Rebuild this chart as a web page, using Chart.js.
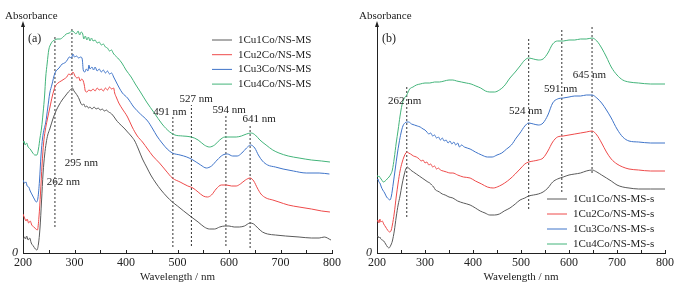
<!DOCTYPE html>
<html>
<head>
<meta charset="utf-8">
<script src="https://cdn.jsdelivr.net/npm/chart.js@4"></script>
<style>
html, body { margin: 0; padding: 0; background: #fff; }
.panel { position: absolute; top: 0; width: 344px; height: 292px; }
</style>
</head>
<body>
<div class="panel" style="left:0"><canvas id="chartA" width="344" height="292"></canvas></div>
<div class="panel" style="left:344px"><canvas id="chartB" width="344" height="292"></canvas></div>
<script>
// panel (a) spectra, [wavelength nm, absorbance a.u.]
var cu1coA = [[200,13],[203,16],[205,14],[207,17],[210,13],[213,15],[216,10],[220,7],[224,4],[227,3],[230,9],[233,25],[236,52],[239,80],[242,98],[245,110],[248,118],[252,124],[258,134],[264,142],[270,148],[276,153],[282,157],[288,161],[292,163],[296,165],[299,162],[302,160],[306,157],[309,154],[312,150],[315,148],[318,149],[321,146],[324,147],[327,145],[330,146],[334,144],[338,146],[342,144],[346,145],[350,143],[354,144],[358,142],[362,143],[366,141],[370,140],[374,138],[377,136],[381,133],[386,130],[392,127],[398,124],[403,121],[410,117],[417,112],[424,104],[432,94],[440,86],[448,78],[458,70],[468,63],[480,56],[490,51],[500,47],[512,42],[527,36],[540,31],[552,26],[562,24],[572,24],[582,26],[592,27],[600,27],[610,26],[620,26],[630,27],[641,30],[648,29],[656,25],[665,21],[675,19],[690,18],[710,17],[736,16],[760,15],[775,15],[785,16],[798,13]];
var cu2coA = [[200,39],[203,35],[206,32],[208,34],[211,30],[214,32],[217,28],[221,26],[225,24],[228,23],[231,36],[234,60],[237,88],[240,110],[243,122],[247,133],[252,145],[257,157],[262,166],[268,170],[274,172],[280,174],[285,176],[289,179],[293,178],[297,181],[301,177],[305,175],[308,176],[311,172],[314,174],[317,172],[319,168],[321,162],[324,161],[328,163],[332,162],[336,164],[340,162],[344,165],[348,163],[352,164],[356,162],[360,165],[364,163],[368,166],[372,164],[376,165],[378,160],[381,156],[386,150],[393,144],[403,136],[412,126],[422,117],[432,111],[442,104],[452,97],[465,90],[478,82],[490,75],[505,71],[520,67],[530,65],[540,61],[550,57],[558,56],[566,58],[575,64],[585,68],[595,68],[605,67],[614,67],[622,69],[632,73],[641,75],[648,72],[655,65],[662,59],[672,55],[685,53],[697,51],[715,48],[736,46],[760,44],[780,42],[796,41]];
var cu3coA = [[200,73],[203,70],[206,71],[208,67],[211,66],[214,62],[218,58],[222,54],[226,51],[229,55],[232,72],[235,98],[238,115],[241,124],[244,130],[248,145],[252,160],[256,168],[262,180],[270,185],[276,189],[281,190],[286,193],[290,196],[294,195],[297,199],[300,196],[304,197],[308,195],[312,196],[315,194],[317,183],[320,181],[323,184],[326,182],[328,188],[330,184],[334,186],[337,183],[340,186],[344,182],[348,184],[352,181],[356,183],[360,180],[364,182],[368,179],[372,180],[376,176],[380,172],[386,166],[393,160],[403,155],[415,146],[428,139],[442,132],[452,124],[460,117],[470,110],[480,104],[490,100],[505,98],[518,96],[530,93],[545,88],[556,85],[566,87],[577,93],[588,98],[597,99],[607,97],[616,97],[625,100],[634,105],[642,108],[650,105],[657,98],[665,92],[675,88],[690,86],[705,84],[725,82],[750,80],[775,80],[795,79]];
var cu4coA = [[200,110],[202,112],[204,108],[207,110],[210,106],[214,104],[219,100],[223,98],[227,98],[230,104],[233,115],[236,125],[239,140],[242,158],[244,175],[247,190],[250,203],[254,209],[258,212],[262,213],[266,214],[272,214],[278,216],[284,219],[290,220],[295,222],[299,221],[303,219],[307,222],[310,218],[313,221],[316,219],[318,214],[321,217],[324,213],[327,216],[330,212],[333,215],[336,212],[340,213],[344,210],[348,211],[352,208],[356,209],[360,206],[364,205],[368,202],[372,203],[375,200],[378,198],[384,195],[392,190],[400,183],[410,176],[418,169],[428,161],[440,151],[455,140],[470,129],[485,121],[495,118],[510,117],[527,116],[540,113],[552,108],[562,106],[572,108],[582,113],[592,116],[602,116],[614,116],[624,117],[634,119],[643,120],[651,118],[660,113],[672,108],[685,103],[697,100],[715,97],[736,95],[760,93],[780,92],[796,91]];

// panel (b) spectra
var cu1coB = [[200,16],[202,17],[204,15],[206,16],[208,14],[211,13],[214,12],[218,9],[222,6],[225,5],[228,7],[232,12],[236,22],[240,36],[244,48],[248,57],[252,68],[256,77],[260,84],[263,86],[266,85],[270,83],[276,81],[282,79],[288,77],[294,75],[300,73],[306,71],[310,70],[314,68],[318,66],[322,63],[326,62],[330,61],[336,59],[342,58],[350,56],[358,55],[368,52],[380,50],[394,48],[405,45],[415,42],[425,40],[435,38],[445,38],[455,39],[465,42],[477,45],[488,49],[498,53],[508,55],[516,57],[526,58],[536,59],[546,61],[556,65],[566,71],[576,74],[588,76],[600,78],[612,79],[624,80],[636,82],[648,83],[658,81],[668,78],[678,75],[688,72],[700,68],[712,66],[725,65],[745,64],[770,64],[800,64]];
var cu2coB = [[200,31],[202,33],[204,30],[206,34],[208,31],[211,32],[214,29],[218,26],[222,23],[226,21],[229,22],[232,28],[236,40],[240,56],[244,70],[248,82],[252,90],[256,96],[260,100],[263,101],[266,100],[270,99],[276,97],[282,96],[288,94],[292,92],[296,93],[300,90],[304,91],[308,88],[312,89],[316,86],[320,87],[324,84],[328,85],[332,83],[338,82],[345,81],[352,80],[358,80],[368,78],[380,76],[394,75],[405,72],[418,69],[430,66],[442,65],[455,67],[466,70],[477,74],[488,79],[498,84],[508,89],[516,91],[526,92],[536,93],[546,95],[556,102],[566,111],[576,116],[588,117],[600,118],[612,119],[624,120],[636,121],[648,122],[658,118],[668,110],[678,101],[688,94],[700,89],[712,86],[725,84],[745,83],[770,82],[800,82]];
var cu3coB = [[200,73],[202,74],[204,71],[206,70],[209,66],[212,63],[216,60],[220,56],[224,54],[227,53],[230,57],[234,70],[238,84],[242,98],[246,110],[250,120],[254,127],[258,130],[262,131],[266,131],[272,129],[278,128],[284,127],[290,126],[296,124],[300,123],[304,121],[308,119],[312,120],[316,117],[320,118],[324,115],[328,116],[332,113],[336,115],[340,112],[344,113],[348,110],[352,112],[356,109],[360,111],[364,108],[368,110],[372,106],[376,108],[382,106],[394,104],[405,101],[418,98],[430,96],[440,96],[450,98],[460,100],[470,104],[480,108],[490,115],[498,120],[508,127],[516,130],[526,129],[536,128],[546,130],[556,138],[566,150],[576,154],[588,155],[600,156],[612,157],[624,157],[636,158],[648,158],[658,155],[668,150],[678,143],[688,135],[700,124],[712,116],[725,112],[745,111],[770,110],[800,110]];
var cu4coB = [[200,78],[202,76],[204,77],[207,75],[210,73],[213,71],[217,72],[221,74],[225,76],[229,79],[232,83],[236,95],[240,110],[244,123],[248,137],[252,148],[256,154],[262,158],[268,164],[275,166],[282,168],[290,169],[300,170],[310,170],[320,171],[330,171],[340,172],[350,173],[358,173],[366,172],[376,171],[386,170],[396,169],[406,167],[416,165],[426,162],[435,161],[445,161],[455,163],[465,167],[477,175],[488,181],[498,187],[508,193],[516,195],[526,194],[536,193],[546,194],[556,200],[566,209],[576,212],[588,212],[600,213],[612,213],[624,214],[636,214],[648,215],[658,212],[668,205],[678,196],[688,186],[700,178],[712,173],[725,171],[745,170],[770,169],[800,169]];

var namesA = ['1Cu1Co/NS-MS', '1Cu2Co/NS-MS', '1Cu3Co/NS-MS', '1Cu4Co/NS-MS'];
var namesB = ['1Cu1Co/NS-MS-s', '1Cu2Co/NS-MS-s', '1Cu3Co/NS-MS-s', '1Cu4Co/NS-MS-s'];

// marked peaks: wavelength, dashed span [low, high], label text and label anchor [nm, abs]
var peaksA = [262, 295, 491, 527, 594, 641];
var spansA = [[26,217], [98,226], [6,136], [7,148], [7,138], [5,128]];
var peakTextA = ['262 nm', '295 nm', '491 nm', '527 nm', '594 nm', '641 nm'];
var peakTextAtA = [[246,71], [281,90], [453,141], [504,154], [568,143], [626,134]];

var peaksB = [262, 516, 585, 648];
var spansB = [[36,166], [44,214], [61,224], [80,226]];
var peakTextB = ['262 nm', '524 nm', '591 nm', '645 nm'];
var peakTextAtB = [[223,152], [475,142], [548,164], [608,178]];

var colors = ['#5a5a5a', '#ee4a4a', '#3f74c9', '#43b47a'];
var serif = '"Liberation Serif", "Times New Roman", serif';

function toXY(pairs) {
    return pairs.map(function (p) { return {x: p[0], y: p[1]}; });
}

var overlay = {
    id: 'overlay',
    afterDatasetsDraw: function (chart, args, o) {
        var ctx = chart.ctx, xs = chart.scales.x, ys = chart.scales.y, area = chart.chartArea;
        ctx.save();
        ctx.fillStyle = '#222';
        ctx.strokeStyle = '#222';
        ctx.textBaseline = 'middle';
        ctx.font = '11px ' + serif;
        o.texts.forEach(function (t, i) {
            ctx.fillText(t, xs.getPixelForValue(o.textAt[i][0]), ys.getPixelForValue(o.textAt[i][1]));
        });
        // legend
        o.names.forEach(function (n, i) {
            var yy = o.legend.y + i * o.legend.step;
            ctx.strokeStyle = chart.data.datasets[i].borderColor;
            ctx.lineWidth = 1;
            ctx.beginPath();
            ctx.moveTo(o.legend.x, yy);
            ctx.lineTo(o.legend.x + 20, yy);
            ctx.stroke();
            ctx.fillText(n, o.legend.x + 26, yy);
        });
        // inward tick marks
        ctx.strokeStyle = '#222';
        ctx.lineWidth = 1;
        xs.ticks.forEach(function (t) {
            var px = Math.round(xs.getPixelForValue(t.value)) + 0.5;
            ctx.beginPath();
            ctx.moveTo(px, area.bottom);
            ctx.lineTo(px, area.bottom - 3);
            ctx.stroke();
        });
        // arrow on the y axis
        var ax = area.left;
        ctx.beginPath();
        ctx.moveTo(ax, area.top - 4);
        ctx.lineTo(ax - 2, area.top + 2);
        ctx.lineTo(ax + 2, area.top + 2);
        ctx.closePath();
        ctx.fill();
        ctx.font = '11px ' + serif;
        ctx.fillText('Absorbance', o.titleX, 16);
        ctx.font = '12px ' + serif;
        ctx.fillText(o.tag, area.left + 5, 39);
        ctx.restore();
    }
};

function makeChart(id, series, names, peaks, spans, texts, textAt, yWidth, padRight, legend, titleX, tag) {
    var sets = series.map(function (s, i) {
        return {
            label: names[i],
            data: toXY(s),
            borderColor: colors[i],
            borderWidth: 1,
            pointRadius: 0,
            cubicInterpolationMode: 'monotone'
        };
    });
    peaks.forEach(function (p, i) {
        sets.push({
            label: 'peak',
            data: [{x: p, y: spans[i][0]}, {x: p, y: spans[i][1]}],
            borderColor: '#333',
            borderWidth: 1,
            borderDash: [2, 2],
            pointRadius: 0
        });
    });
    return new Chart(document.getElementById(id), {
        type: 'line',
        data: {datasets: sets},
        options: {
            animation: false,
            responsive: false,
            layout: {padding: {left: 0, top: 25, right: padRight, bottom: 0}},
            plugins: {
                legend: {display: false},
                tooltip: {enabled: false},
                overlay: {texts: texts, textAt: textAt, names: names, legend: legend, titleX: titleX, tag: tag}
            },
            scales: {
                x: {
                    type: 'linear',
                    min: 200,
                    max: 800,
                    afterFit: function (s) { s.height = 39; },
                    grid: {display: false, drawTicks: false},
                    border: {display: true, color: '#222', width: 1},
                    ticks: {
                        stepSize: 50,
                        autoSkip: false,
                        maxRotation: 0,
                        padding: 3,
                        color: '#222',
                        font: {family: serif, size: 12},
                        callback: function (v) { return v % 100 === 0 ? String(v) : ''; }
                    },
                    title: {
                        display: true,
                        text: 'Wavelength / nm',
                        color: '#222',
                        font: {family: serif, size: 11},
                        padding: {top: 0, bottom: 8}
                    }
                },
                y: {
                    type: 'linear',
                    min: 0,
                    max: 228,
                    afterFit: function (s) { s.width = yWidth; },
                    afterBuildTicks: function (s) { s.ticks = [{value: 0}]; },
                    grid: {display: false, drawTicks: false},
                    border: {display: true, color: '#222', width: 1},
                    ticks: {
                        padding: 5,
                        color: '#222',
                        font: {family: serif, size: 12, style: 'italic'},
                        callback: function (v) { return String(v); }
                    }
                }
            }
        },
        plugins: [overlay]
    });
}

var chartA = makeChart('chartA', [cu1coA, cu2coA, cu3coA, cu4coA], namesA, peaksA, spansA, peakTextA, peakTextAtA,
    23, 11, {x: 212, y: 40, step: 14.7}, 5, '(a)');
var chartB = makeChart('chartB', [cu1coB, cu2coB, cu3coB, cu4coB], namesB, peaksB, spansB, peakTextB, peakTextAtB,
    33, 23, {x: 203, y: 199, step: 15}, 15, '(b)');
</script>
</body>
</html>
